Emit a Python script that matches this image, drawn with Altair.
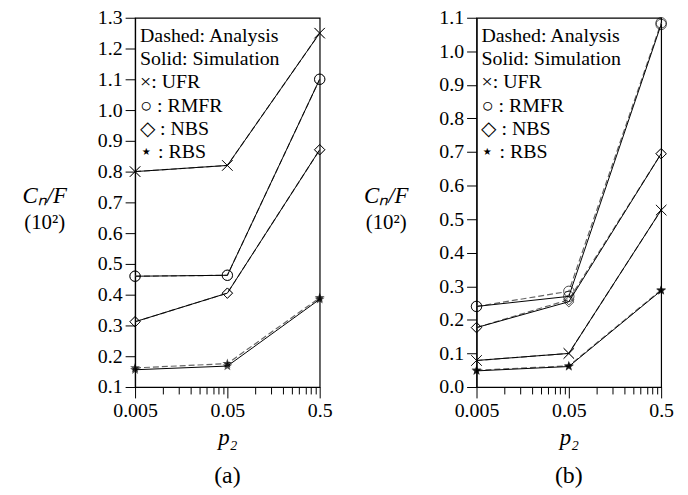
import altair as alt
import pandas as pd

p2 = [0.005, 0.05, 0.5]
methods = ["UFR", "RMFR", "NBS", "RBS"]

# Panel (a)
a_sim = {
    "UFR": [0.80, 0.82, 1.25],
    "RMFR": [0.46, 0.463, 1.10],
    "NBS": [0.312, 0.405, 0.871],
    "RBS": [0.156, 0.168, 0.385],
}
a_ana = {
    "UFR": [0.80, 0.82, 1.25],
    "RMFR": [0.46, 0.463, 1.10],
    "NBS": [0.312, 0.405, 0.871],
    "RBS": [0.162, 0.176, 0.39],
}
# Panel (b)
b_sim = {
    "UFR": [0.079, 0.10, 0.527],
    "RMFR": [0.24, 0.27, 1.08],
    "NBS": [0.177, 0.254, 0.695],
    "RBS": [0.048, 0.061, 0.287],
}
b_ana = {
    "UFR": [0.079, 0.10, 0.527],
    "RMFR": [0.24, 0.285, 1.085],
    "NBS": [0.177, 0.26, 0.695],
    "RBS": [0.05, 0.063, 0.289],
}

x_ticks = [0.005, 0.01, 0.015, 0.02, 0.025, 0.03, 0.035, 0.04, 0.045,
           0.05, 0.1, 0.15, 0.2, 0.25, 0.3, 0.35, 0.4, 0.45, 0.5]
a_yticks = [0.1, 0.2, 0.3, 0.4, 0.5, 0.6, 0.7, 0.8, 0.9, 1.0, 1.1, 1.2, 1.3]
b_yticks = [0.0, 0.1, 0.2, 0.3, 0.4, 0.5, 0.6, 0.7, 0.8, 0.9, 1.0, 1.1]
legend_lines = ["Dashed: Analysis", "Solid: Simulation", "×: UFR", "○ : RMFR", "◇ : NBS", "⋆ : RBS"]
ytitle_main = "Cₙ/F"
ytitle_unit = "(10²)"

FONT = "Liberation Serif"
XSHAPE = "M-1,-1L1,1M-1,1L1,-1"
STAR = ("M0,-1L0.235,-0.324L0.951,-0.309L0.380,0.124L0.588,0.809L0,0.4"
        "L-0.588,0.809L-0.380,0.124L-0.951,-0.309L-0.235,-0.324Z")


def make_df(sim, ana):
    rows = []
    for kind, src in (("Simulation", sim), ("Analysis", ana)):
        for m in methods:
            for x, v in zip(p2, src[m]):
                rows.append({"p2": float(x), "value": float(v), "method": m, "kind": kind})
    return pd.DataFrame(rows)


def panel(sim, ana, ydom, yticks, caption):
    df = make_df(sim, ana)
    xenc = alt.X(
        "p2:Q",
        scale=alt.Scale(type="log", domain=[0.005, 0.5], nice=False),
        axis=alt.Axis(
            values=x_ticks,
            labelExpr="datum.value == 0.005 ? '0.005' : (datum.value == 0.05 ? '0.05' : (datum.value == 0.5 ? '0.5' : ''))",
            tickSize={"condition": {"test": "datum.value == 0.005 || datum.value == 0.05 || datum.value == 0.5", "value": 11}, "value": 7},
            labelFlush=False,
            labelPadding=3,
            title="p₂",
            titleFontStyle="italic",
            titleFontSize=23,
            titleFontWeight="normal",
            titlePadding=6,
            grid=False,
        ),
    )
    yenc = alt.Y(
        "value:Q",
        scale=alt.Scale(domain=ydom, nice=False, zero=False),
        axis=alt.Axis(
            values=yticks,
            format=".1f",
            tickSize=10,
            labelPadding=3,
            grid=False,
            title=None,
        ),
    )
    base = alt.Chart(df).encode(x=xenc, y=yenc)
    ana_line = base.transform_filter(alt.datum.kind == "Analysis").mark_line(
        color="#666666", strokeWidth=1.2, strokeDash=[6, 3]
    ).encode(detail="method:N")
    sim_line = base.transform_filter(alt.datum.kind == "Simulation").mark_line(
        color="black", strokeWidth=1
    ).encode(detail="method:N")
    open_pts = base.transform_filter(alt.datum.method != "RBS").mark_point(
        filled=False, color="black", strokeWidth=1, size=110
    ).encode(
        shape=alt.Shape(
            "method:N",
            scale=alt.Scale(domain=["UFR", "RMFR", "NBS"], range=[XSHAPE, "circle", "diamond"]),
            legend=None,
        )
    )
    star_pts = base.transform_filter(alt.datum.method == "RBS").mark_point(
        filled=True, color="black", shape=STAR, size=110
    )
    leg_df = pd.DataFrame({"label": legend_lines, "row": list(range(len(legend_lines)))})
    legend = alt.Chart(leg_df).transform_calculate(
        ly="18 + datum.row * 23.5"
    ).mark_text(
        align="left", baseline="middle", font=FONT, fontSize=20, color="black"
    ).encode(
        x=alt.value(5),
        y=alt.Y("ly:Q", scale=None, axis=None),
        text="label:N",
    )
    yt1 = alt.Chart(pd.DataFrame({"t": [ytitle_main]})).mark_text(
        align="center", baseline="middle", font=FONT, fontSize=23,
        fontStyle="italic", color="black"
    ).encode(x=alt.value(-91), y=alt.value(180), text="t:N")
    yt2 = alt.Chart(pd.DataFrame({"t": [ytitle_unit]})).mark_text(
        align="center", baseline="middle", font=FONT, fontSize=21, color="black"
    ).encode(x=alt.value(-91), y=alt.value(207), text="t:N")
    return alt.layer(ana_line, sim_line, open_pts, star_pts, legend, yt1, yt2).properties(
        width=186,
        height=372,
        title=alt.TitleParams(
            caption, orient="bottom", anchor="middle", frame="group",
            font=FONT, fontSize=24, fontWeight="normal", offset=15,
        ),
    )


pa = panel(a_sim, a_ana, [0.1, 1.3], a_yticks, "(a)")
pb = panel(b_sim, b_ana, [0.0, 1.1], b_yticks, "(b)")

chart = alt.hconcat(pa, pb, spacing=30).properties(
    padding={"left": 14, "top": -3, "right": 5, "bottom": 5}
).configure_view(
    stroke="black", strokeWidth=1.2
).configure_axis(
    domainColor="black", tickColor="black", labelColor="black", titleColor="black",
    labelFont=FONT, titleFont=FONT, labelFontSize=20, domainWidth=1.2,
)

chart.save("out.html", embed_options={"renderer": "svg", "actions": False})
